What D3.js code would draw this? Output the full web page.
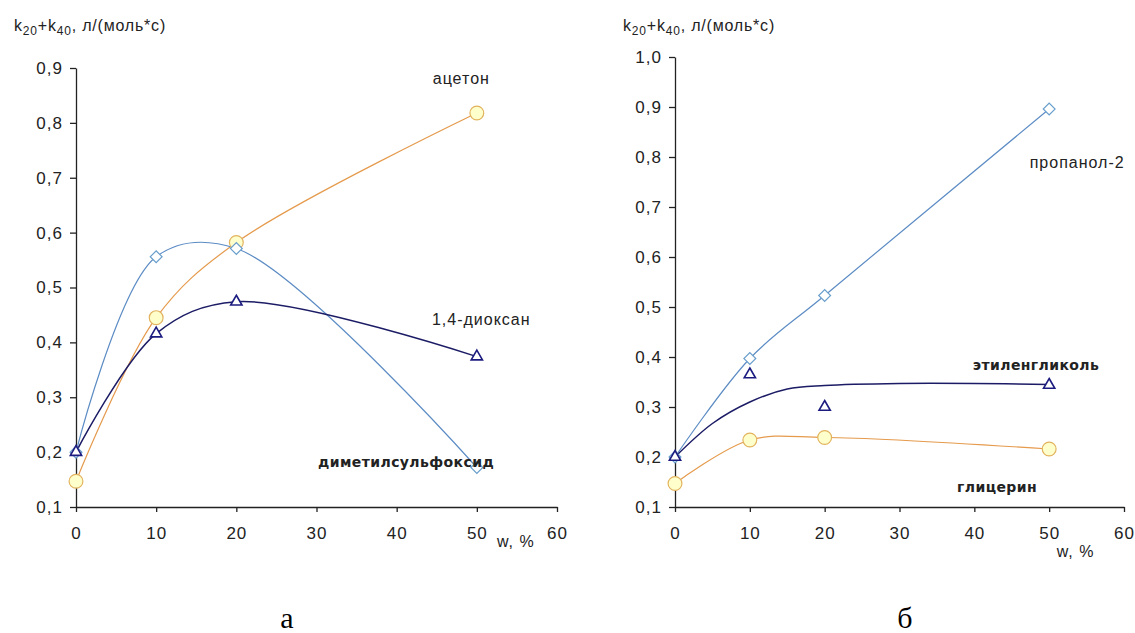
<!DOCTYPE html>
<html>
<head>
<meta charset="utf-8">
<script src="https://cdn.jsdelivr.net/npm/d3@7"></script>
<style>
    body { margin: 0; background: #fff; }
    .tick text, .unit { font-family: "Liberation Sans", Arial, sans-serif; font-size: 17px; fill: #222; letter-spacing: 1px; }
    .axis path, .axis line { stroke: #222; stroke-width: 1.3; }
    .series-label { font-family: "Liberation Sans", Arial, sans-serif; font-size: 16px; fill: #222; letter-spacing: 1px; }
    .series-label.bold { font-family: "DejaVu Sans", sans-serif; font-weight: bold; font-size: 14px; letter-spacing: 0.4px; }
    .caption { font-family: "Liberation Serif", "Times New Roman", serif; font-size: 30px; fill: #000; }
</style>
</head>
<body>
<div id="chart"></div>
<script>
// concentration of the co-solvent, w %
const wPercent = [0, 10, 20, 50];

// panel а
const acetone = [0.147, 0.445, 0.582, 0.818];
const dmso = [0.2, 0.556, 0.571, 0.172];
const dioxane = [0.2, 0.416, 0.474, 0.374];

// panel б
const propanol = [0.2, 0.397, 0.523, 0.896];
const ethyleneGlycol = [0.2, 0.365, 0.3, 0.344];
const glycerol = [0.147, 0.234, 0.239, 0.216];
// trend line drawn for ethylene glycol
const glycolTrendW = [0, 5, 10, 15, 20, 30, 40, 50];
const glycolTrend = [0.2, 0.267, 0.31, 0.336, 0.343, 0.347, 0.347, 0.345];

// ticks
const xTicks = [0, 10, 20, 30, 40, 50, 60];
const yTicksA = [0.1, 0.2, 0.3, 0.4, 0.5, 0.6, 0.7, 0.8, 0.9];
const yTicksB = [0.1, 0.2, 0.3, 0.4, 0.5, 0.6, 0.7, 0.8, 0.9, 1.0];

const orange = { line: "#e59a4c", stroke: "#e2b35e", fill: "#ffffcc" };
const lightBlue = { line: "#5c8cc4", stroke: "#6a9fcc", fill: "#ffffff" };
const navy = { line: "#1c1c66", stroke: "#1c1c80", fill: "#ffffff" };

const svg = d3.select("#chart")
    .append("svg")
    .attr("width", 1135)
    .attr("height", 633);

const commaFormat = d => d3.format(".1f")(d).replace(".", ",");

function drawPanel(cfg) {
    const x = d3.scaleLinear().domain([0, 60]).range([cfg.left, cfg.left + cfg.width]);
    const y = d3.scaleLinear().domain(cfg.yDomain).range([cfg.top + cfg.height, cfg.top]);

    const g = svg.append("g");

    // axes
    g.append("g")
        .attr("class", "axis")
        .attr("transform", `translate(0, ${cfg.top + cfg.height})`)
        .call(d3.axisBottom(x).tickValues(xTicks).tickSize(5).tickSizeOuter(0).tickPadding(15));

    g.append("g")
        .attr("class", "axis")
        .attr("transform", `translate(${cfg.left}, 0)`)
        .call(d3.axisLeft(y).tickValues(cfg.yTicks).tickSize(6).tickSizeOuter(0).tickPadding(7).tickFormat(commaFormat));

    // title of the y axis with subscripts
    const title = g.append("text")
        .attr("class", "unit")
        .attr("x", cfg.titleX)
        .attr("y", 31)
        .style("font-size", "16px")
        .style("letter-spacing", "0.8px");
    title.append("tspan").text("k");
    title.append("tspan").attr("dy", 4).style("font-size", "12px").text("20");
    title.append("tspan").attr("dy", -4).text("+k");
    title.append("tspan").attr("dy", 4).style("font-size", "12px").text("40");
    title.append("tspan").attr("dy", -4).text(", л/(моль*с)");

    // lines
    cfg.series.forEach(s => {
        const pts = (s.lineW || wPercent).map((w, i) => [w, (s.lineValues || s.values)[i]]);
        g.append("path")
            .datum(pts)
            .attr("fill", "none")
            .attr("stroke", s.color.line)
            .attr("stroke-width", s.width || 1.2)
            .attr("d", d3.line()
                .x(d => x(d[0]))
                .y(d => y(d[1]))
                .curve(d3.curveCatmullRom.alpha(0.5)));
    });

    // markers
    cfg.series.forEach(s => {
        const pts = wPercent.map((w, i) => [w, s.values[i]]);
        const sym = s.marker === "circle" ? d3.symbolCircle
            : s.marker === "diamond" ? d3.symbolSquare : d3.symbolTriangle;
        const size = s.marker === "circle" ? 150 : s.marker === "diamond" ? 70 : 55;
        g.selectAll(null)
            .data(pts)
            .enter()
            .append("path")
            .attr("d", d3.symbol(sym, size))
            .attr("transform", d => `translate(${x(d[0])}, ${y(d[1])})` + (s.marker === "diamond" ? " rotate(45)" : ""))
            .attr("fill", s.color.fill)
            .attr("stroke", s.color.stroke)
            .attr("stroke-width", s.marker === "triangle" ? 1.6 : 1.2);
    });

    // series labels
    cfg.labels.forEach(l => {
        g.append("text")
            .attr("class", "series-label" + (l.bold ? " bold" : ""))
            .attr("x", x(l.w))
            .attr("y", y(l.k))
            .text(l.text);
    });

    g.append("text")
        .attr("class", "unit")
        .attr("x", x(cfg.unitPos[0]))
        .attr("y", y(cfg.unitPos[1]))
        .style("font-size", "16px")
        .text("w, %");

    g.append("text")
        .attr("class", "caption")
        .attr("x", cfg.captionX)
        .attr("y", 628)
        .attr("text-anchor", "middle")
        .text(cfg.caption);
}

drawPanel({
    left: 76, top: 68, width: 481, height: 439,
    yDomain: [0.1, 0.9], yTicks: yTicksA,
    titleX: 14, caption: "а", captionX: 287,
    unitPos: [52.5, 0.028],
    series: [
        { values: acetone, color: orange, marker: "circle" },
        { values: dmso, color: lightBlue, marker: "diamond" },
        { values: dioxane, color: navy, marker: "triangle", width: 1.5 }
    ],
    labels: [
        { text: "ацетон", w: 44.5, k: 0.871 },
        { text: "1,4-диоксан", w: 44.4, k: 0.432 },
        { text: "диметилсульфоксид", w: 30.2, k: 0.173, bold: true }
    ]
});

drawPanel({
    left: 675, top: 57, width: 449, height: 450,
    yDomain: [0.1, 1.0], yTicks: yTicksB,
    titleX: 623, caption: "б", captionX: 905,
    unitPos: [51.0, 0.0],
    series: [
        { values: glycerol, color: orange, marker: "circle" },
        { values: propanol, color: lightBlue, marker: "diamond" },
        { values: ethyleneGlycol, lineW: glycolTrendW, lineValues: glycolTrend, color: navy, marker: "triangle", width: 1.5 }
    ],
    labels: [
        { text: "пропанол-2", w: 47.4, k: 0.778 },
        { text: "этиленгликоль", w: 39.8, k: 0.374, bold: true },
        { text: "глицерин", w: 37.7, k: 0.13, bold: true }
    ]
});
</script>
</body>
</html>
